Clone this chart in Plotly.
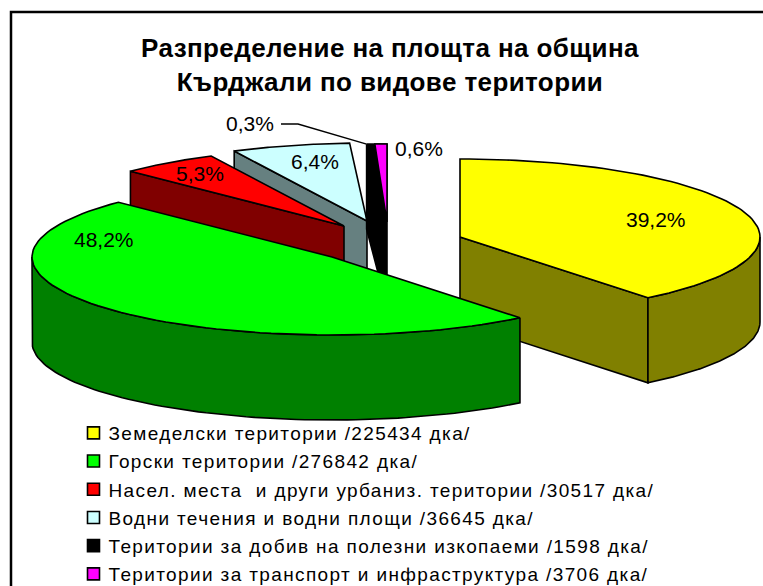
import numpy as np
import plotly.graph_objects as go

# ---- data ----
names = ["Земеделски територии /225434 дка/",
         "Горски територии /276842 дка/",
         "Насел. места  и други урбаниз. територии /30517 дка/",
         "Водни течения и водни площи /36645 дка/",
         "Територии за добив на полезни изкопаеми /1598 дка/",
         "Територии за транспорт и инфраструктура /3706 дка/"]
values = [225434, 276842, 30517, 36645, 1598, 3706]
pct_labels = ["39,2%", "48,2%", "5,3%", "6,4%", "0,3%", "0,6%"]
top_colors = ["#FFFF00", "#00FF00", "#FF0000", "#CCFFFF", "#000000", "#FF00FF"]
wall_colors = ["#808000", "#008000", "#800000", "#668080", "#000000", "#000000"]

# ---- projection of the exploded 3-D pie (page pixels) ----
RX, RY, DEPTH = 300, 78, 85
centers = [(460, 237), (332, 257), (344, 226), (367, 221), (384, 222), (387, 222)]
label_pos = [(656, 219), (104, 239), (200, 173), (315, 161), (250, 123), (419, 148)]
legend_left, legend_top = 68.5 / 763, 1 - 414 / 586

v = np.array(values, float)
edges = np.concatenate([[0], np.cumsum(v) / v.sum() * 360])


def rim(i, a0, a1, dy=0, n=80):
    a = np.radians(np.linspace(a0, a1, n))
    cx, cy = centers[i]
    return cx + RX * np.sin(a), cy - RY * np.cos(a) + dy


fig = go.Figure()


def poly(xs, ys, color, lw=1.6):
    fig.add_trace(go.Scatter(x=list(xs) + [xs[0]], y=list(ys) + [ys[0]], mode="lines", fill="toself",
                             fillcolor=color, line=dict(color="black", width=lw),
                             hoverinfo="skip", showlegend=False))


def cut_face(i, angle, color):
    x, y = rim(i, angle, angle, n=1)
    cx, cy = centers[i]
    poly([cx, x[0], x[0], cx], [cy, y[0], y[0] + DEPTH, cy + DEPTH], color)


def top(i):
    x, y = rim(i, edges[i], edges[i + 1])
    cx, cy = centers[i]
    poly([cx] + list(x), [cy] + list(y), top_colors[i])


def outer_wall(i, a0, a1):
    x, y = rim(i, a0, a1)
    x2, y2 = rim(i, a1, a0, DEPTH)
    poly(list(x) + list(x2), list(y) + list(y2), wall_colors[i])


# yellow
cut_face(0, edges[1], wall_colors[0])
outer_wall(0, 90, edges[1])
top(0)
# light blue
cut_face(3, edges[3], wall_colors[3])
top(3)
# black band: face of the black slice and the magenta slice behind it
bx, by = rim(4, edges[4], edges[4], n=1)
mcx, mcy = centers[5]
poly([bx[0], mcx, mcx, bx[0]], [by[0], by[0], mcy + DEPTH, by[0] + DEPTH], "#000000")
top(5)
# red
cut_face(2, edges[2], wall_colors[2])
top(2)
# green
outer_wall(1, edges[1], 270)
top(1)

# leader line for 0,3%
fig.add_trace(go.Scatter(x=[281, 298, bx[0]], y=[124, 124, by[0]], mode="lines",
                         line=dict(color="black", width=1.5), hoverinfo="skip", showlegend=False))

# legend entries
for i, n in enumerate(names):
    fig.add_trace(go.Scatter(x=[None], y=[None], mode="markers", name=n, legendgroup=str(i),
                             marker=dict(symbol="square", size=12, color=top_colors[i],
                                         line=dict(color="black", width=1.6))))

for (x, y), t in zip(label_pos, pct_labels):
    fig.add_annotation(x=x, y=y, text=t, showarrow=False, xref="x", yref="y",
                       font=dict(size=21, color="black"))

fig.update_layout(
    width=763, height=586, margin=dict(l=0, r=0, t=0, b=0, autoexpand=False),
    paper_bgcolor="white", plot_bgcolor="white",
    font=dict(family="Liberation Sans, Arial, sans-serif", color="black"),
    xaxis=dict(range=[0, 763], visible=False, fixedrange=True),
    yaxis=dict(range=[586, 0], visible=False, fixedrange=True),
    legend=dict(x=legend_left, y=legend_top, xanchor="left", yanchor="top", tracegroupgap=0.5,
                font=dict(size=19), bgcolor="rgba(0,0,0,0)", itemwidth=30),
    title=dict(text="Разпределение на площта на община<br>Кърджали по видове територии",
               x=390 / 763, xanchor="center", y=1 - 57 / 586, yanchor="middle",
               font=dict(size=26, color="black", weight="bold")),
    shapes=[dict(type="rect", xref="x", yref="y", x0=11, y0=12, x1=800, y1=640,
                 line=dict(color="black", width=2.5), layer="below")],
)
post = """
document.body.style.margin='0';
document.querySelectorAll('.legendtext').forEach(function(t){t.style.letterSpacing='1.37px';});
document.querySelectorAll('.legendsymbols').forEach(function(t){t.setAttribute('transform','translate(5,0)');});
document.querySelectorAll('.legend .scrollbox').forEach(function(t){t.removeAttribute('clip-path');});
document.querySelectorAll('.gtitle').forEach(function(t){t.style.letterSpacing='0.4px';});
"""
fig.write_html("out.html", config=dict(displayModeBar=False), post_script=post)
